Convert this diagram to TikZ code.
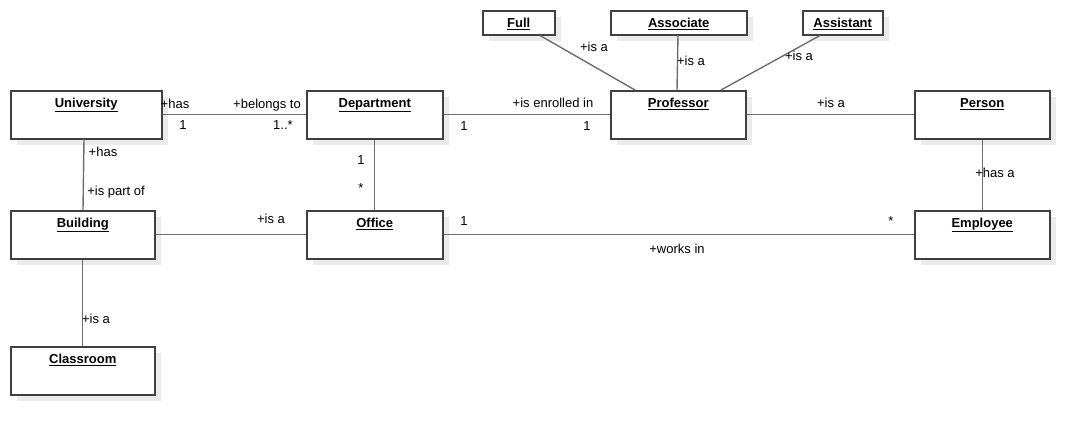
\documentclass[tikz,border=0pt]{standalone}
\usepackage{fontspec}
\setmainfont{Liberation Sans}
\usetikzlibrary{calc}
\definecolor{boxline}{HTML}{404040}
\definecolor{connline}{HTML}{6E6E6E}
\definecolor{shadowgray}{HTML}{EBEBEB}
\tikzset{
  umlbox/.style={draw=boxline, line width=1.5pt, fill=white, rectangle, anchor=north west, inner sep=0pt},
  conn/.style={draw=connline, line width=1.4pt},
  lbl/.style={font=\fontsize{13}{15}\selectfont, anchor=base, inner sep=0pt, text=black},
  ttl/.style={font=\fontsize{13}{15}\selectfont\bfseries, anchor=base, inner sep=0pt, text=black}
}
\newcommand{\umlclass}[6]{% name, x1, y1, x2, y2, title
  \fill[fill=shadowgray] (#2+7,#3+7) rectangle (#4+7,#5+7);
  \node[umlbox, minimum width=#4-#2, minimum height=#5-#3] (#1) at (#2,#3) {};
  \node[ttl] (#1t) at ($(#1.north)+(0,17.5)$) {\underline{#6}};
}
\begin{document}
\begin{tikzpicture}[x=1pt,y=-1pt]
\useasboundingbox (0,0) rectangle (1088,434);
% classes
\umlclass{full}{482}{10}{554}{34}{Full}
\umlclass{assoc}{610}{10}{746}{34}{Associate}
\umlclass{assist}{802}{10}{882}{34}{Assistant}
\umlclass{univ}{10}{90}{161}{138}{University}
\umlclass{dept}{306}{90}{442}{138}{Department}
\umlclass{prof}{610}{90}{745}{138}{Professor}
\umlclass{person}{914}{90}{1049}{138}{Person}
\umlclass{build}{10}{210}{154}{258}{Building}
\umlclass{office}{306}{210}{442}{258}{Office}
\umlclass{empl}{914}{210}{1049}{258}{Employee}
\umlclass{class}{10}{346}{154}{394}{Classroom}
% connectors
\draw[conn] (univ.east) -- (dept.west);
\draw[conn] (dept.east) -- (prof.west);
\draw[conn] (prof.east) -- (person.west);
\draw[conn] ($(full.south west)+(58,0)$) -- ($(prof.north west)+(25,0)$);
\draw[conn] ($(assoc.south west)+(68,0)$) -- ($(prof.north west)+(67,0)$);
\draw[conn] ($(assist.south west)+(18,0)$) -- ($(prof.north west)+(111,0)$);
\draw[conn] ($(univ.south west)+(74,0)$) -- ($(build.north west)+(73,0)$);
\draw[conn] (dept.south) -- (office.north);
\draw[conn] (build.east) -- (office.west);
\draw[conn] (office.east) -- (empl.west);
\draw[conn] (person.south) -- (empl.north);
\draw[conn] (build.south) -- (class.north);
% labels
\node[lbl] (l1) at (175,108) {+has};
\node[lbl] (l2) at (183,129.5) {1};
\node[lbl] (l3) at (267,108) {+belongs to};
\node[lbl] (l4) at (283,129.5) {1..*};
\node[lbl] (l5) at (553,107) {+is enrolled in};
\node[lbl] (l6) at (464,130) {1};
\node[lbl] (l7) at (587,130) {1};
\node[lbl] (l8) at (831,107) {+is a};
\node[lbl] (l9) at (594,51.5) {+is a};
\node[lbl] (l10) at (691,65) {+is a};
\node[lbl] (l11) at (799,60.5) {+is a};
\node[lbl] (l12) at (103,156) {+has};
\node[lbl] (l13) at (116,195) {+is part of};
\node[lbl] (l14) at (361,164) {1};
\node[lbl] (l15) at (361,192) {*};
\node[lbl] (l16) at (271,223) {+is a};
\node[lbl] (l17) at (464,225) {1};
\node[lbl] (l18) at (891,225) {*};
\node[lbl] (l19) at (677,253) {+works in};
\node[lbl] (l20) at (995,177) {+has a};
\node[lbl] (l21) at (96,323) {+is a};
\end{tikzpicture}
\end{document}
